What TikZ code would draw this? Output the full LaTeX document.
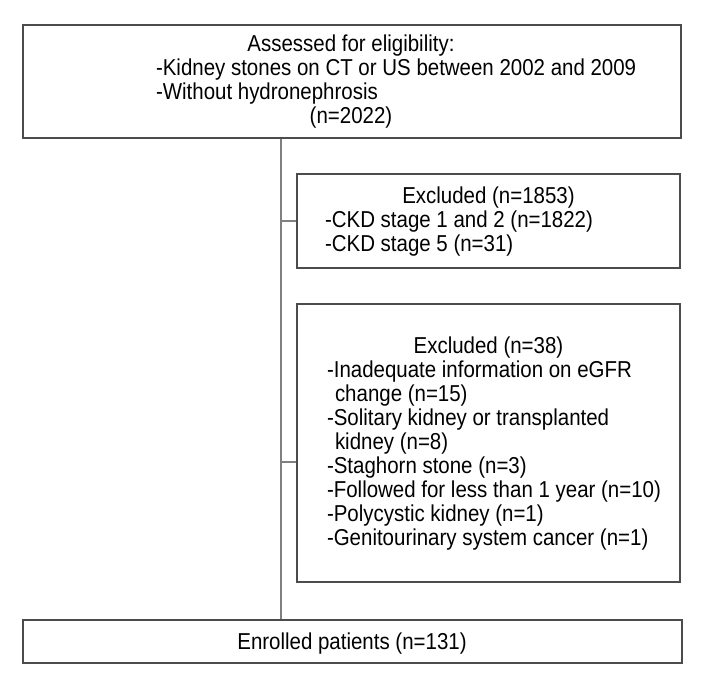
\documentclass[tikz,border=0pt]{standalone}
\usepackage{fontspec}
\setmainfont{Liberation Sans}[FakeStretch=0.89]
% one line of a list: flush left, natural word spaces
\newcommand{\lline}[1]{\makebox[\hsize][l]{\spaceskip=0pt\xspaceskip=0pt\relax#1}}
% one centred line
\newcommand{\mline}[1]{\makebox[\hsize][c]{\spaceskip=0pt\xspaceskip=0pt\relax#1}}
\begin{document}
\begin{tikzpicture}[x=1pt,y=-1pt,
  box/.style={draw=black!70,line width=1.4pt,rectangle,inner sep=0pt},
  link/.style={draw=black!50,line width=1.4pt},
  txt/.style={inner sep=0pt,anchor=base,font=\fontsize{23}{24}\selectfont},
  list/.style={txt,align=center,text width=#1}]
\useasboundingbox (0,0) rectangle (704,686);
% boxes
\node[box,minimum width=658pt,minimum height=113pt] (assess) at (352,81.5) {};
\node[box,minimum width=383pt,minimum height=94pt] (excl1) at (488.5,221) {};
\node[box,minimum width=383pt,minimum height=278pt] (excl2) at (488.5,443) {};
\node[box,minimum width=659pt,minimum height=43pt] (enrol) at (352.5,641.5) {};
% connectors
\coordinate (spine) at (281,0);
\coordinate (excl2in) at (excl2.west |- 0,462);
\draw[link] (spine |- assess.south) -- (spine |- enrol.north);
\draw[link] (spine |- excl1.west) -- (excl1.west);
\draw[link] (spine |- excl2in) -- (excl2in);
% texts
\node[list=390pt] (assesstxt) at (351,51.5) {\mline{Assessed for eligibility:}\\
  \lline{-Kidney stones on CT or US between 2002 and 2009}\\
  \lline{-Without hydronephrosis}\\
  \mline{(n=2022)}};
\node[list=327pt] (excl1txt) at (488.5,203) {\mline{Excluded (n=1853)}\\
  \lline{-CKD stage 1 and 2 (n=1822)}\\
  \lline{-CKD stage 5 (n=31)}};
\node[list=323pt] (excl2txt) at (488.5,353) {\mline{Excluded (n=38)}\\
  \lline{-Inadequate information on eGFR}\\
  \lline{\hspace*{8pt}change (n=15)}\\
  \lline{-Solitary kidney or transplanted}\\
  \lline{\hspace*{8pt}kidney (n=8)}\\
  \lline{-Staghorn stone (n=3)}\\
  \lline{-Followed for less than 1 year (n=10)}\\
  \lline{-Polycystic kidney (n=1)}\\
  \lline{-Genitourinary system cancer (n=1)}};
\node[txt] (enroltxt) at (352,649) {Enrolled patients (n=131)};
\end{tikzpicture}
\end{document}
